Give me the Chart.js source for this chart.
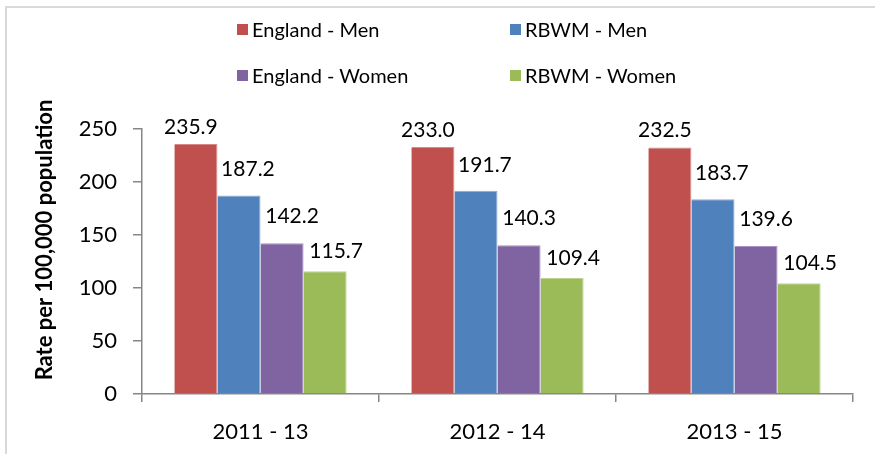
<!DOCTYPE html>
<html>
<head>
<meta charset="utf-8">
<script src="https://cdn.jsdelivr.net/npm/chart.js@4"></script>
<style>
    html, body { margin: 0; padding: 0; background: #fff; }
    #wrap { position: relative; width: 875px; height: 454px; overflow: hidden; }
    #frame {
        position: absolute; left: 5px; top: 6px; width: 880px; height: 460px;
        border-left: 2px solid #d9d9d9; border-top: 2px solid #d9d9d9;
    }
    #chart { position: absolute; left: 0; top: 0; }
    .legend-item {
        position: absolute; display: flex; align-items: center;
        font-family: Lato, sans-serif; font-size: 20px; color: #000;
        transform: translateY(-50%); white-space: nowrap;
    }
    .legend-item span.box { width: 11px; height: 11px; margin-right: 4px; display: inline-block; }
</style>
</head>
<body>
<div id="wrap">
    <div id="frame"></div>
    <canvas id="chart" width="875" height="454"></canvas>
</div>
<script>
// 기간 및 계열 값
const periods = ['2011 - 13', '2012 - 14', '2013 - 15'];
const englandMen = [235.9, 233.0, 232.5];
const rbwmMen = [187.2, 191.7, 183.7];
const englandWomen = [142.2, 140.3, 139.6];
const rbwmWomen = [115.7, 109.4, 104.5];
const yTicks = [0, 50, 100, 150, 200, 250];

const seriesNames = ['England - Men', 'RBWM - Men', 'England - Women', 'RBWM - Women'];
const seriesColors = ['#C0504D', '#4F81BD', '#8064A2', '#9BBB59'];
const seriesEdges = ['#d88a88', '#8aaad6', '#a892c2', '#bdd48f'];

// 값 라벨 위치 보정 (막대 상단 기준)
const labelShift = [
    { dx: -5, dy: -17 },
    { dx: 9, dy: -26 },
    { dx: 10, dy: -27 },
    { dx: 11, dy: -20 }
];

const fontFamily = 'Lato, sans-serif';

const chartData = {
    labels: periods,
    datasets: [englandMen, rbwmMen, englandWomen, rbwmWomen].map((values, i) => ({
        label: seriesNames[i],
        data: values,
        backgroundColor: seriesColors[i],
        borderColor: seriesEdges[i],
        borderWidth: { top: 1, left: 0, right: 1, bottom: 0 },
        borderSkipped: 'bottom',
        categoryPercentage: 0.727,
        barPercentage: 1.0
    }))
};

// 막대 위에 값 표시
const valueLabels = {
    id: 'valueLabels',
    afterDatasetsDraw(chart) {
        const ctx = chart.ctx;
        ctx.save();
        ctx.font = '21px ' + fontFamily;
        ctx.fillStyle = '#000';
        ctx.textAlign = 'center';
        ctx.textBaseline = 'middle';
        chart.data.datasets.forEach((ds, i) => {
            chart.getDatasetMeta(i).data.forEach((bar, j) => {
                const s = labelShift[i];
                ctx.fillText(ds.data[j].toFixed(1), bar.x + s.dx, bar.y + s.dy);
            });
        });
        ctx.restore();
    }
};

// 세로축 제목
const yTitle = {
    id: 'yTitle',
    afterDraw(chart) {
        const ctx = chart.ctx;
        ctx.save();
        ctx.translate(45, 240);
        ctx.rotate(-Math.PI / 2);
        ctx.font = 'bold 22px ' + fontFamily;
        ctx.fillStyle = '#000';
        ctx.textAlign = 'center';
        ctx.textBaseline = 'middle';
        ctx.fillText('Rate per 100,000 population', 0, 0);
        ctx.restore();
    }
};

new Chart(document.getElementById('chart'), {
    type: 'bar',
    data: chartData,
    options: {
        responsive: false,
        animation: false,
        layout: { padding: { top: 129, right: 22, left: 0, bottom: 0 } },
        plugins: {
            legend: { display: false },
            tooltip: { enabled: false }
        },
        scales: {
            x: {
                afterFit: s => { s.height = 60; },
                grid: {
                    offset: true,
                    drawOnChartArea: false,
                    tickLength: 8,
                    color: '#868686',
                    lineWidth: 1.5
                },
                border: { color: '#868686', width: 1.5 },
                ticks: {
                    color: '#000',
                    padding: 17,
                    font: { family: fontFamily, size: 22 }
                }
            },
            y: {
                min: 0,
                max: 250,
                afterFit: s => { s.width = 142; },
                afterBuildTicks: s => { s.ticks = yTicks.map(v => ({ value: v })); },
                grid: {
                    drawOnChartArea: false,
                    tickLength: 9,
                    color: '#868686',
                    lineWidth: 1.5
                },
                border: { color: '#868686', width: 1.5 },
                ticks: {
                    color: '#000',
                    padding: 16,
                    font: { family: fontFamily, size: 22 }
                }
            }
        }
    },
    plugins: [valueLabels, yTitle]
});

// 범례 (2열 2행)
const legendPos = [
    { x: 237, y: 29 }, { x: 510, y: 29 },
    { x: 237, y: 75 }, { x: 510, y: 75 }
];
const wrap = document.getElementById('wrap');
seriesNames.forEach((name, i) => {
    const item = document.createElement('div');
    item.className = 'legend-item';
    item.style.left = legendPos[i].x + 'px';
    item.style.top = legendPos[i].y + 'px';
    const box = document.createElement('span');
    box.className = 'box';
    box.style.background = seriesColors[i];
    item.appendChild(box);
    item.appendChild(document.createTextNode(name));
    wrap.appendChild(item);
});
</script>
</body>
</html>
